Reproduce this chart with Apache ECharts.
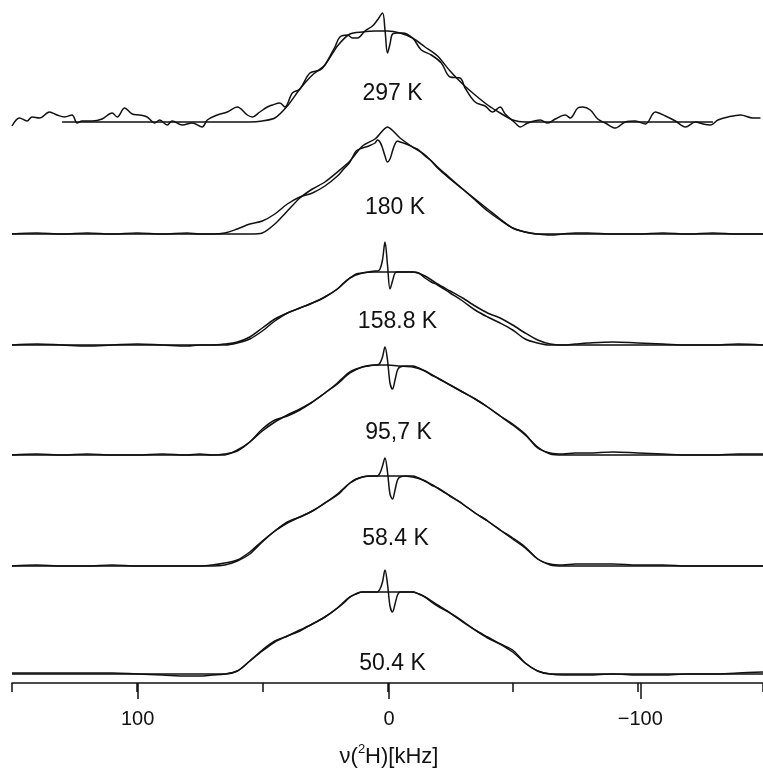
<!DOCTYPE html>
<html><head><meta charset="utf-8">
<script src="https://cdn.jsdelivr.net/npm/echarts@6/dist/echarts.min.js"></script>
<style>html,body{margin:0;padding:0;background:#fff}#c{width:763px;height:773px}</style>
</head><body><div id="c"></div>
<script>
// ---------------- DATA ----------------
const temperatures = ['297 K', '180 K', '158.8 K', '95,7 K', '58.4 K', '50.4 K'];

// frequency grid (kHz) for the experimental spectra 180 K ... 50.4 K
const freq = [150,140,130,120,110,100,90,80,75,70,65,60,55,50,45,40,35,30,25,20,17.5,15,12.5,10,7.5,5,4,3,2,1,0,-1,-2,-3,-4,-5,-7.5,-10,-12.5,-15,-17.5,-20,-25,-30,-35,-40,-45,-50,-55,-60,-65,-70,-75,-80,-90,-100,-110,-120,-130,-140,-150];
// frequency grid (kHz) for the simulated spectra
const freqSim = [150,130,100,80,70,65,60,55,50,45,40,35,30,25,20,15,10,5,0,-5,-10,-15,-20,-25,-30,-35,-40,-45,-50,-55,-60,-65,-70,-80,-100,-130,-150];
// frequency grid (kHz) for the noisy 297 K experimental spectrum
const freq297 = [150,147,144,142,139,135,132,129,126,124,122,118,114,110,108,105,102,99,96,93,91,88,86,82,78,74,72,68,64,60,56,54,51,48,46,43,41,38,35,31,27,25,21,19,16,14,12,9,6,4,2,1,0,-1,-2,-4,-6,-10,-13.5,-17.5,-21.5,-25,-29,-31,-35,-39,-42,-45,-47,-51,-53,-56,-61,-64,-67,-71,-73,-76,-78,-81,-84,-87,-91,-95,-99,-103,-107,-111,-115,-119,-123,-126,-129,-132,-136,-141,-146,-149];

// experimental intensities (arbitrary units)
const exp297 = [-4,4,1,5,4,10,7,5,7,-1,1,1,3,9,5,14,8,7,5,-1,2,-3,1,-3,-1,-5,2,7,10,15,7,5,10,15,17,19,15,29,33,49,52,57,75,85,87,84,84,91,96,102,109,92,69,78,88,89,89,84,72,67,59,45,44,34,20,16,10,15,8,-1,-5,-1,2,-1,3,7,4,14,15,12,3,-1,-6,0,1,-2,10,6,1,-5,0,-2,-3,2,5,7,4,4];
const exp180 = [0,1,0,1,0,1,0,1,0,0, 1,5,10,13,20,30,37,41,48,58, 65,72,83,86,88,91,94,92,86,78, 72,75,83,90,93,92,90,87,84,78, 73,66,55,45,35,25,15,6,2,0, -1,0,1,1,0,0,1,0,1,0,0];
const exp158 = [0,1,0,-1,0,1,0,-1,0,0, 1,3,8,17,26,32,37,42,48,56, 62,67,71,72,73,74,74,76,85,103, 80,56,64,72,73,73,73,73,72,67, 63,60,52,44,35,28,22,15,6,2, 0,0,1,2,3,2,1,0,0,1,0];
const exp95 = [0,1,0,1,0,0,1,0,1,0, 1,4,13,26,35,39,45,53,62,72, 78,83,86,88,89,90,90,92,98,108, 95,72,66,75,85,88,89,89,87,84, 80,77,70,63,56,48,39,31,21,7, 2,1,2,2,3,2,1,0,0,1,1];
const exp58 = [0,1,0,0,1,0,0,0,0,1, 3,6,14,25,35,43,49,55,63,71, 77,83,87,89,90,90,90,93,100,108, 94,72,67,76,86,89,90,90,88,85, 81,78,70,62,53,45,36,28,19,7, 2,1,2,2,2,1,1,0,0,0,0];
const exp50 = [1,1,1,1,1,0,-1,-2,-2,-1, 0,3,13,24,33,38,43,50,57,66, 71,77,80,82,82,82,82,85,92,104, 90,68,62,70,79,82,82,82,80,77, 72,68,61,53,44,36,30,24,11,3, 0,-1,-1,-1,0,-1,-1,0,0,1,2];

// simulated intensities (arbitrary units), null = not drawn
const sim297 = [null,0,0,0,0,0,0,0,1,4,16,33,47,57,76,88,90,91,91,89,84,75,66,51,38,27,17,9,2,0,0,0,0,0,0,0,null];
const sim180 = [0,0,0,0,0,0,0,0,1,10,23,36,45,52,62,73,88,95,107,96,87,79,67,56,45,34,23,14,6,2,0,0,0,0,0,0,0];
const sim158 = [0,0,0,0,0,0,2,6,14,24,32,37,42,48,56,67,72,73,73,73,73,69,61,54,47,39,32,27,20,12,5,1,0,0,0,0,0];
const sim95 = [0,0,0,0,0,0,5,13,24,33,40,46,53,62,71,82,88,90,90,89,88,84,77,70,63,56,48,39,30,20,8,1,0,0,0,0,0];
const sim58 = [0,0,0,0,0,1,5,12,24,35,44,49,55,63,72,83,89,90,90,90,89,85,78,70,62,53,45,36,27,18,7,1,0,0,0,0,0];
const sim50 = [0,0,0,0,0,0,3,13,23,32,38,44,50,57,66,77,82,82,82,82,82,77,69,61,52,44,37,30,22,11,3,0,0,0,0,0,0];

const tickValues = [100, 0, -100];

// ---------------- LAYOUT (not data) ----------------
const FONT = 'Liberation Sans, Arial, Helvetica, sans-serif';
const INK = '#111111';
const PLOT_H = 683;                       // y-units == pixels above axis
const offsets = [561, 449, 338, 228, 117, 9];  // vertical stacking of traces
const labelAt = [[-2, 28], [-3, 26], [-4, 23], [-4.4, 22], [-3.2, 27], [-2, 10]]; // [kHz, lift]

const expSets = [[freq297, exp297], [freq, exp180], [freq, exp158], [freq, exp95], [freq, exp58], [freq, exp50]];
const simSets = [sim297, sim180, sim158, sim95, sim58, sim50];

const series = [];
const lineBase = {
  type: 'line', xAxisIndex: 0, yAxisIndex: 0, showSymbol: false, symbol: 'none',
  clip: false, silent: true, animation: false,
  lineStyle: { color: INK, width: 1.5 }
};
temperatures.forEach((t, i) => {
  const off = offsets[i];
  const [fx, fy] = expSets[i];
  series.push(Object.assign({}, lineBase, {
    name: t + ' exp', smooth: 0.35,
    data: fx.map((f, j) => [f, off + fy[j]])
  }));
  const simData = [];
  freqSim.forEach((f, j) => { if (simSets[i][j] !== null) simData.push([f, off + simSets[i][j]]); });
  series.push(Object.assign({}, lineBase, {
    name: t + ' sim', smooth: 0.25, data: simData
  }));
  series.push({
    type: 'scatter', xAxisIndex: 0, yAxisIndex: 0, symbolSize: 1, silent: true, animation: false,
    itemStyle: { opacity: 0 },
    data: [[labelAt[i][0], off + labelAt[i][1]]],
    label: { show: true, position: 'inside', formatter: t, fontSize: 23, color: INK, opacity: 1, fontFamily: FONT }
  });
});

const fmt = v => (v < 0 ? '\u2212' + Math.abs(v) : String(v));

const chart = echarts.init(document.getElementById('c'), null, { renderer: 'canvas' });
chart.setOption({
  backgroundColor: '#ffffff',
  animation: false,
  textStyle: { fontFamily: FONT },
  grid: [
    { left: 12, width: 754, top: 0, height: PLOT_H },
    { left: 12 + 754 * 50 / 300, width: 754 * 200 / 300, top: 0, height: PLOT_H }
  ],
  xAxis: [
    {
      gridIndex: 0, type: 'value', inverse: true, min: -150, max: 150, interval: 50,
      axisLine: { show: true, lineStyle: { color: INK, width: 1.5 } },
      axisTick: { show: true, length: 9, lineStyle: { color: INK, width: 1.5 } },
      axisLabel: { show: false }, splitLine: { show: false }
    },
    {
      gridIndex: 1, type: 'value', inverse: true, min: -100, max: 100, interval: 100,
      axisLine: { show: false },
      axisTick: { show: true, length: 16, lineStyle: { color: INK, width: 1.5 } },
      axisLabel: {
        show: true, fontSize: 20, color: INK, fontFamily: FONT, margin: 26,
        formatter: v => (tickValues.indexOf(v) >= 0 ? fmt(v) : '')
      },
      splitLine: { show: false },
      name: '{a|\u03bd(}{s|2}{a|H)[kHz]}',
      nameLocation: 'middle', nameGap: 60,
      nameTextStyle: {
        color: INK, fontFamily: FONT, fontSize: 22,
        rich: {
          a: { fontSize: 22, lineHeight: 28, color: INK, fontFamily: FONT },
          s: { fontSize: 13, lineHeight: 14, verticalAlign: 'top', color: INK, fontFamily: FONT }
        }
      }
    }
  ],
  yAxis: [
    { gridIndex: 0, type: 'value', min: 0, max: PLOT_H, show: false },
    { gridIndex: 1, type: 'value', min: 0, max: PLOT_H, show: false }
  ],
  series: series
});
</script></body></html>
